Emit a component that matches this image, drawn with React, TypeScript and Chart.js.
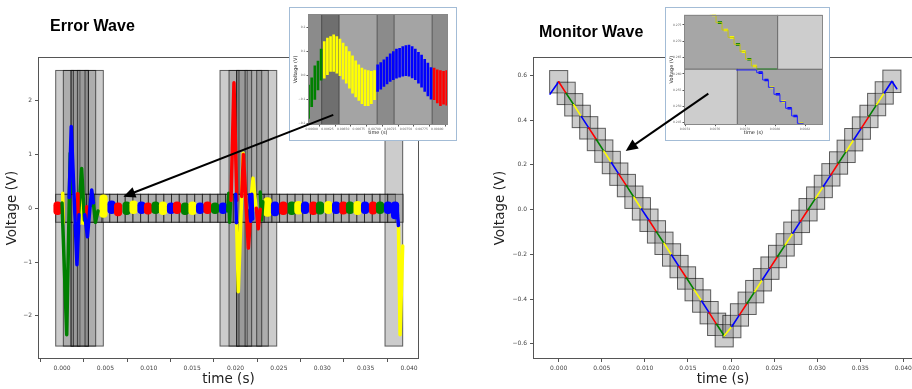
import React, { useEffect, useRef } from 'react';
import { Chart, registerables } from 'chart.js';

Chart.register(...registerables);

const COLOR: Record<string, string> = { r: '#ff0000', g: '#008000', b: '#0000ff', y: '#ffff00' };
const BOX_FILL = 'rgba(128,128,128,0.4)';
const BOX_EDGE = 'rgba(0,0,0,0.6)';

// ================= Error Wave (left) =================
const errXMin = -0.00277;
const errXMax = 0.04115;
const errYMin = -2.8;
const errYMax = 2.81;
const errXStep = 0.005;
const errYStep = 1;

// oscillation clusters (centre time, low, high, colour)
const errBlobT = [-0.00052, 0.00478, 0.00571, 0.00646, 0.00744, 0.00824, 0.00916, 0.00991, 0.01078, 0.01164, 0.01256, 0.01326, 0.01418, 0.01504, 0.01591, 0.01677, 0.01764, 0.01856, 0.02369, 0.02455, 0.02551, 0.02648, 0.02724, 0.02801, 0.02897, 0.02974, 0.0307, 0.03159, 0.03243, 0.0332, 0.03407, 0.03493, 0.03585, 0.03666, 0.03758, 0.03839];
const errBlobLo = [-0.12, -0.17, -0.1, -0.14, -0.12, -0.1, -0.1, -0.11, -0.1, -0.12, -0.1, -0.1, -0.12, -0.12, -0.1, -0.1, -0.1, -0.1, -0.15, -0.14, -0.12, -0.12, -0.11, -0.1, -0.12, -0.11, -0.1, -0.1, -0.11, -0.1, -0.12, -0.1, -0.11, -0.1, -0.1, -0.2];
const errBlobHi = [0.12, 0.25, 0.14, 0.1, 0.12, 0.14, 0.12, 0.1, 0.12, 0.12, 0.1, 0.12, 0.1, 0.12, 0.1, 0.12, 0.1, 0.1, 0.2, 0.12, 0.12, 0.12, 0.13, 0.12, 0.12, 0.12, 0.13, 0.12, 0.12, 0.12, 0.13, 0.12, 0.12, 0.12, 0.12, 0.12];
const errBlobC = ['r', 'y', 'b', 'r', 'g', 'y', 'b', 'r', 'g', 'y', 'b', 'r', 'g', 'y', 'b', 'r', 'g', 'b', 'y', 'b', 'r', 'g', 'y', 'b', 'r', 'g', 'y', 'b', 'r', 'g', 'y', 'b', 'r', 'g', 'b', 'b'];

// transient traces (null = break)
const errGreenT = [0.0, 0.00054, 0.00094, 0.00108, null, 0.00192, 0.00226, 0.00258, null, 0.00328, 0.00352, 0.00385, 0.00415, null, 0.0191, 0.01922, 0.01932, 0.01942, null, 0.02285, 0.023, 0.02315];
const errGreenV = [0.1, -2.35, 1.02, 0.3, null, -0.1, 0.74, -0.22, null, 0.05, 0.25, -0.26, -0.05, null, -0.05, 0.28, -0.26, 0.1, null, 0.3, -0.22, 0.12];
const errBlueT = [0.00082, 0.00106, 0.00172, 0.00196, null, 0.00262, 0.00293, 0.0032, 0.00342, 0.00362, null, 0.02002, 0.0201, null, 0.02165, 0.02175, 0.02188, 0.02198, null, 0.0386, 0.03878];
const errBlueV = [0.2, 1.52, -1.05, -0.12, null, -0.12, -0.53, -0.02, 0.34, 0.1, null, 0.26, -0.27, null, 0.25, -0.24, 0.26, -0.2, null, 0.02, -0.32];
const errRedT = [0.00178, 0.00184, null, 0.00285, 0.00292, null, 0.01948, 0.01982, 0.02015, null, 0.02071, 0.02091, 0.02148, 0.02178, null, 0.0224, 0.02262, 0.02285];
const errRedV = [0.27, -0.22, null, 0.03, -0.28, null, 0.15, 2.33, 0.15, null, 0.22, 1.0, -0.74, -0.05, null, 0.0, -0.38, -0.02];
const errYellowT = [0.00008, 0.00014, null, 0.00145, 0.00152, null, 0.00203, 0.00209, null, 0.00238, 0.00244, null, 0.02005, 0.02032, 0.02088, 0.021, null, 0.02167, 0.02202, 0.0224, null, 0.03878, 0.03897, 0.03927];
const errYellowV = [0.28, -0.28, null, 0.28, -0.28, null, 0.28, -0.28, null, 0.28, -0.28, null, 0.25, -1.55, 1.02, 0.3, null, 0.0, 0.56, -0.05, null, -0.3, -2.35, -0.7];

// gray windows
const errBoxStart = [-0.00073, 0.00015, 0.00104, 0.00104, 0.00177, 0.00265, 0.01821, 0.01925, 0.02013, 0.02013, 0.0211, 0.02244, 0.03723];
const errBoxEnd = [0.00476, 0.00388, 0.00207, 0.00131, 0.00304, 0.00304, 0.02475, 0.02378, 0.02136, 0.0204, 0.02186, 0.02302, 0.03927];
const errBoxHalf = 2.56;
const errBandEdges = [-0.00073, 0.00016, 0.00105, 0.00194, 0.00283, 0.00372, 0.00461, 0.0055, 0.00639, 0.00728, 0.00817, 0.00906, 0.00995, 0.01084, 0.01173, 0.01262, 0.01351, 0.0144, 0.01529, 0.01618, 0.01707, 0.01796, 0.01885, 0.01974, 0.02063, 0.02152, 0.02241, 0.0233, 0.02419, 0.02508, 0.02597, 0.02686, 0.02775, 0.02864, 0.02953, 0.03042, 0.03131, 0.0322, 0.03309, 0.03398, 0.03487, 0.03576, 0.03665, 0.03754, 0.03843, 0.03932];
const errBandHalf = 0.26;
const errArrowFrom = [0.03127, 1.734];
const errArrowTo = [0.00707, 0.216];

// inset of error wave
const eiXMin = 0.005941;
const eiXMax = 0.008166;
const eiYMin = -0.207;
const eiYMax = 0.257;
const eiXStep = 0.00025;
const eiYStep = 0.1;
const eiStripStart = [0.005941, 0.006159, 0.006439, 0.007044, 0.007315, 0.00792];
const eiStripEnd = [0.006159, 0.006439, 0.007044, 0.007315, 0.00792, 0.008166];
const eiStripLayers = [2, 3, 1, 2, 1, 2];
const eiGreenT = [0.00595, 0.006, 0.00605, 0.0061, 0.00615];
const eiGreenLo = [-0.18, -0.13, -0.1, -0.06, -0.02];
const eiGreenHi = [-0.04, -0.01, 0.04, 0.06, 0.11];
const eiYellowT = [0.0062, 0.00625, 0.0063, 0.00635, 0.0064, 0.00645, 0.0065, 0.00655, 0.0066, 0.00665, 0.0067, 0.00675, 0.0068, 0.00685, 0.0069, 0.00695, 0.007];
const eiYellowHi = [0.142, 0.156, 0.163, 0.17, 0.163, 0.152, 0.135, 0.121, 0.1, 0.082, 0.061, 0.045, 0.031, 0.024, 0.02, 0.017, 0.021];
const eiYellowLo = [-0.011, 0.003, 0.017, 0.017, 0.01, -0.001, -0.015, -0.032, -0.053, -0.074, -0.09, -0.104, -0.118, -0.126, -0.126, -0.118, -0.101];
const eiBlueT = [0.00705, 0.0071, 0.00715, 0.0072, 0.00725, 0.0073, 0.00735, 0.0074, 0.00745, 0.0075, 0.00755, 0.0076, 0.00765, 0.0077, 0.00775, 0.0078, 0.00785, 0.0079];
const eiBlueHi = [0.045, 0.054, 0.065, 0.077, 0.09, 0.1, 0.11, 0.114, 0.121, 0.125, 0.127, 0.121, 0.11, 0.097, 0.085, 0.068, 0.052, 0.033];
const eiBlueLo = [-0.067, -0.057, -0.046, -0.035, -0.025, -0.018, -0.011, -0.007, -0.003, -0.001, -0.003, -0.01, -0.018, -0.032, -0.049, -0.067, -0.085, -0.099];
const eiRedT = [0.00795, 0.008, 0.00805, 0.0081, 0.00815];
const eiRedHi = [0.031, 0.024, 0.02, 0.017, 0.02];
const eiRedLo = [-0.101, -0.115, -0.126, -0.12, -0.124];

// ================= Monitor Wave (right) =================
const monXMin = -0.00298;
const monXMax = 0.04112;
const monYMin = -0.668;
const monYMax = 0.6816;
const monXStep = 0.005;
const monYStep = 0.2;
const monT = [-0.001, 0.0, 0.00087, 0.00175, 0.00262, 0.00349, 0.00437, 0.00524, 0.00611, 0.00698, 0.00786, 0.00873, 0.0096, 0.01048, 0.01135, 0.01222, 0.0131, 0.01397, 0.01484, 0.01571, 0.01659, 0.01746, 0.01833, 0.01921, 0.0201, 0.02098, 0.02187, 0.02275, 0.02364, 0.02452, 0.0254, 0.02629, 0.02717, 0.02806, 0.02894, 0.02982, 0.03071, 0.03159, 0.03248, 0.03336, 0.03424, 0.03513, 0.03601, 0.0369, 0.03778, 0.03867, 0.03924];
const monV = [0.516, 0.571, 0.519, 0.468, 0.416, 0.365, 0.313, 0.261, 0.21, 0.158, 0.107, 0.055, 0.003, -0.048, -0.1, -0.151, -0.203, -0.255, -0.306, -0.358, -0.409, -0.461, -0.513, -0.564, -0.523, -0.471, -0.419, -0.367, -0.314, -0.262, -0.21, -0.158, -0.106, -0.053, -0.001, 0.051, 0.103, 0.155, 0.208, 0.26, 0.312, 0.364, 0.416, 0.469, 0.521, 0.573, 0.54];
const monC = ['b', 'r', 'g', 'y', 'b', 'r', 'g', 'y', 'b', 'r', 'g', 'y', 'b', 'r', 'g', 'y', 'b', 'r', 'g', 'y', 'b', 'r', 'g', 'y', 'b', 'r', 'g', 'y', 'b', 'r', 'g', 'y', 'b', 'r', 'g', 'y', 'b', 'r', 'g', 'y', 'b', 'r', 'g', 'y', 'b', 'b'];
const monBoxHalfT = 0.00105;
const monBoxHalfV = 0.05;
const monArrowFrom = [0.01737, 0.518];
const monArrowTo = [0.00778, 0.262];

// inset of monitor wave
const miXMin = 0.0073933;
const miXMax = 0.008318;
const miYMin = 0.24438;
const miYMax = 0.27816;
const miXStep = 0.0002;
const miYStep = 0.005;
const miRectX0 = [0.0073933, 0.008018, 0.0073933, 0.007749];
const miRectX1 = [0.008018, 0.008318, 0.007749, 0.008318];
const miRectY0 = [0.26139, 0.26139, 0.24438, 0.24438];
const miRectY1 = [0.27816, 0.27816, 0.26139, 0.26139];
const miRectLayers = [2, 1, 1, 2];
const miUpT = [0.007567, 0.007607, 0.007647, 0.007687, 0.007727, 0.007767, 0.007804, 0.007842, 0.007878, 0.008011];
const miUpV = [0.27807, 0.27572, 0.27346, 0.27121, 0.26906, 0.26681, 0.26446, 0.26241, 0.26149, 0.26149];
const miUpSegC = ['o', 'o', 'o', 'o', 'o', 'o', 'o', 'o', 'g'];
const miUpTread = ['y', 'g', 'y', 'y', 'g', 'y', 'g', 'y', ''];
const miDnT = [0.007744, 0.007878, 0.007918, 0.007956, 0.007993, 0.008033, 0.008071, 0.008111, 0.008149, 0.008189];
const miDnV = [0.26118, 0.26036, 0.25811, 0.25586, 0.25371, 0.25146, 0.24941, 0.24706, 0.24481, 0.24481];
const miDnTread = ['', 'b', 'b', 'y', 'b', 'y', 'b', 'b', 'y'];

// ================= helpers =================
const LAYER_SHADE: Record<number, string> = { 1: '#a4a4a4', 2: '#8b8b8b', 3: '#6f6f6f' };
const LAYER_SHADE_MI: Record<number, string> = { 1: '#cdcdcd', 2: '#a6a6a6' };
const STAIR_COLOR: Record<string, string> = { o: '#c2c21a', g: '#2e8b2e', b: '#2222ff' };

type Rect = { x0: number; x1: number; y0: number; y1: number; fill: string; stroke?: string };

const minus = (v: number, d: number) => (v < -1e-12 ? '\u2212' : '') + Math.abs(v).toFixed(d);

function pts(T: (number | null)[], V: (number | null)[]) {
  let last = 0;
  return T.map((t, i) => {
    if (t !== null) last = t;
    return { x: last, y: V[i] };
  });
}

function rectPlugin(rects: Rect[], frame: string) {
  return {
    id: 'rects',
    beforeDatasetsDraw(chart: any) {
      const { ctx, chartArea: a, scales } = chart;
      const x = scales.x;
      const y = scales.y;
      ctx.save();
      ctx.beginPath();
      ctx.rect(a.left, a.top, a.right - a.left, a.bottom - a.top);
      ctx.clip();
      for (const r of rects) {
        const px0 = x.getPixelForValue(r.x0);
        const px1 = x.getPixelForValue(r.x1);
        const py0 = y.getPixelForValue(r.y1);
        const py1 = y.getPixelForValue(r.y0);
        ctx.fillStyle = r.fill;
        ctx.fillRect(px0, py0, px1 - px0, py1 - py0);
        if (r.stroke) {
          ctx.strokeStyle = r.stroke;
          ctx.lineWidth = 1;
          ctx.strokeRect(px0, py0, px1 - px0, py1 - py0);
        }
      }
      ctx.restore();
    },
    afterDatasetsDraw(chart: any) {
      const { ctx, chartArea: a } = chart;
      ctx.save();
      ctx.strokeStyle = frame;
      ctx.lineWidth = 1;
      const l = Math.round(a.left) + 0.5;
      const t = Math.round(a.top) + 0.5;
      ctx.strokeRect(l, t, Math.round(a.right) - Math.round(a.left) - 1, Math.round(a.bottom) - Math.round(a.top) - 1);
      ctx.restore();
    },
  };
}

function arrowPlugin(overlay: HTMLCanvasElement, from: number[], to: number[]) {
  return {
    id: 'arrowOverlay',
    afterDraw(chart: any) {
      const ctx = overlay.getContext('2d');
      if (!ctx) return;
      ctx.clearRect(0, 0, overlay.width, overlay.height);
      const { x, y } = chart.scales;
      const x0 = x.getPixelForValue(from[0]);
      const y0 = y.getPixelForValue(from[1]);
      const x1 = x.getPixelForValue(to[0]);
      const y1 = y.getPixelForValue(to[1]);
      const ang = Math.atan2(y1 - y0, x1 - x0);
      const c = Math.cos(ang);
      const s = Math.sin(ang);
      const headL = 12;
      const headW = 5.5;
      const bx = x1 - headL * c;
      const by = y1 - headL * s;
      ctx.strokeStyle = '#000';
      ctx.fillStyle = '#000';
      ctx.lineWidth = 2;
      ctx.beginPath();
      ctx.moveTo(x0, y0);
      ctx.lineTo(bx + 2 * c, by + 2 * s);
      ctx.stroke();
      ctx.beginPath();
      ctx.moveTo(x1, y1);
      ctx.lineTo(bx + headW * s, by - headW * c);
      ctx.lineTo(bx - headW * s, by + headW * c);
      ctx.closePath();
      ctx.fill();
    },
  };
}

function linScale(o: {
  min: number; max: number; step: number; fmt: (v: number) => string; tickSize: number; tickLen: number;
  tickPad: number; title: string; titleSize: number; titlePad: any; fit: number; horizontal: boolean; tickColor?: string;
}) {
  return {
    type: 'linear',
    min: o.min,
    max: o.max,
    offset: false,
    ticks: {
      stepSize: o.step,
      includeBounds: false,
      autoSkip: false,
      maxRotation: 0,
      minRotation: 0,
      padding: o.tickPad,
      color: o.tickColor || '#444',
      font: { size: o.tickSize },
      callback: (v: any) => o.fmt(Number(v)),
    },
    grid: { display: true, drawOnChartArea: false, drawTicks: true, tickLength: o.tickLen, color: '#555', lineWidth: 1 },
    border: { display: false },
    title: { display: true, text: o.title, color: '#222', font: { size: o.titleSize }, padding: o.titlePad },
    afterFit: (s: any) => {
      if (o.horizontal) s.height = o.fit;
      else s.width = o.fit;
    },
  };
}

const baseLine = { type: 'line', pointRadius: 0, borderCapStyle: 'round', borderJoinStyle: 'round', fill: false };

function errMainConfig(overlay: HTMLCanvasElement): any {
  const rects: Rect[] = [];
  errBoxStart.forEach((s, i) => rects.push({ x0: s, x1: errBoxEnd[i], y0: -errBoxHalf, y1: errBoxHalf, fill: BOX_FILL, stroke: BOX_EDGE }));
  for (let i = 0; i + 2 < errBandEdges.length; i++) {
    rects.push({ x0: errBandEdges[i], x1: errBandEdges[i + 2], y0: -errBandHalf, y1: errBandHalf, fill: BOX_FILL, stroke: BOX_EDGE });
  }
  const lineDs = (T: any[], V: any[], c: string, order: number) => ({
    ...baseLine, data: pts(T, V), borderColor: COLOR[c], borderWidth: 3.5, order,
  });
  return {
    type: 'line',
    data: {
      datasets: [
        {
          type: 'bar',
          data: errBlobT.map((t, i) => ({ x: t, y: [errBlobLo[i], errBlobHi[i]] })),
          backgroundColor: errBlobC.map((c) => COLOR[c]),
          barThickness: 7.5,
          borderRadius: 4,
          borderSkipped: false,
          borderWidth: 0,
          grouped: false,
          order: 10,
        },
        lineDs(errYellowT, errYellowV, 'y', 4),
        lineDs(errGreenT, errGreenV, 'g', 3),
        lineDs(errRedT, errRedV, 'r', 2),
        lineDs(errBlueT, errBlueV, 'b', 1),
      ],
    },
    options: {
      animation: false,
      responsive: false,
      layout: { padding: { left: 0, top: 57, right: 37, bottom: 0 } },
      plugins: { legend: { display: false }, tooltip: { enabled: false } },
      scales: {
        x: linScale({ min: errXMin, max: errXMax, step: errXStep, fmt: (v) => v.toFixed(3), tickSize: 6, tickLen: 3, tickPad: 3, title: 'time (s)', titleSize: 13.5, titlePad: { top: 0, bottom: 1 }, fit: 30, horizontal: true }),
        y: linScale({ min: errYMin, max: errYMax, step: errYStep, fmt: (v) => minus(v, 0), tickSize: 6, tickLen: 3, tickPad: 3, title: 'Voltage (V)', titleSize: 13.5, titlePad: { top: 4.4, bottom: 0 }, fit: 38, horizontal: false }),
      },
    },
    plugins: [rectPlugin(rects, '#555'), arrowPlugin(overlay, errArrowFrom, errArrowTo)],
  };
}

function errInsetConfig(): any {
  const rects: Rect[] = eiStripStart.map((s, i) => ({ x0: s, x1: eiStripEnd[i], y0: eiYMin, y1: eiYMax, fill: LAYER_SHADE[eiStripLayers[i]], stroke: 'rgba(0,0,0,0.35)' }));
  const strokes = (T: number[], Lo: number[], Hi: number[], c: string) => ({
    type: 'bar',
    data: T.map((t, i) => ({ x: t, y: [Lo[i], Hi[i]] })),
    backgroundColor: COLOR[c],
    barThickness: 2,
    borderWidth: 0,
    grouped: false,
  });
  return {
    type: 'line',
    data: {
      datasets: [
        strokes(eiGreenT, eiGreenLo, eiGreenHi, 'g'),
        strokes(eiYellowT, eiYellowLo, eiYellowHi, 'y'),
        strokes(eiBlueT, eiBlueLo, eiBlueHi, 'b'),
        strokes(eiRedT, eiRedLo, eiRedHi, 'r'),
      ],
    },
    options: {
      animation: false,
      responsive: false,
      layout: { padding: { left: 0, top: 6, right: 8.3, bottom: 0 } },
      plugins: { legend: { display: false }, tooltip: { enabled: false } },
      scales: {
        x: linScale({ min: eiXMin, max: eiXMax, step: eiXStep, fmt: (v) => v.toFixed(5), tickSize: 3, tickLen: 1.5, tickPad: 1, title: 'time (s)', titleSize: 5, titlePad: { top: 0, bottom: 4.7 }, fit: 15, horizontal: true, tickColor: '#666' }),
        y: linScale({ min: eiYMin, max: eiYMax, step: eiYStep, fmt: (v) => minus(v, 1), tickSize: 3, tickLen: 1.5, tickPad: 1, title: 'Voltage (V)', titleSize: 5, titlePad: { top: 2.7, bottom: 0 }, fit: 18, horizontal: false, tickColor: '#666' }),
      },
    },
    plugins: [rectPlugin(rects, '#888')],
  };
}

function monMainConfig(overlay: HTMLCanvasElement): any {
  const rects: Rect[] = [];
  for (let i = 1; i < monT.length - 1; i++) {
    rects.push({ x0: monT[i] - monBoxHalfT, x1: monT[i] + monBoxHalfT, y0: monV[i] - monBoxHalfV, y1: monV[i] + monBoxHalfV, fill: BOX_FILL, stroke: BOX_EDGE });
  }
  return {
    type: 'line',
    data: {
      datasets: [
        {
          ...baseLine,
          data: monT.map((t, i) => ({ x: t, y: monV[i] })),
          borderWidth: 1.6,
          borderColor: COLOR.b,
          segment: { borderColor: (ctx: any) => COLOR[monC[ctx.p0DataIndex]] },
        },
      ],
    },
    options: {
      animation: false,
      responsive: false,
      layout: { padding: { left: 32, top: 57, right: 7, bottom: 0 } },
      plugins: { legend: { display: false }, tooltip: { enabled: false } },
      scales: {
        x: linScale({ min: monXMin, max: monXMax, step: monXStep, fmt: (v) => v.toFixed(3), tickSize: 6, tickLen: 3, tickPad: 3, title: 'time (s)', titleSize: 13.5, titlePad: { top: 0, bottom: 1 }, fit: 30, horizontal: true }),
        y: linScale({ min: monYMin, max: monYMax, step: monYStep, fmt: (v) => minus(v, 1), tickSize: 6, tickLen: 3, tickPad: 3, title: 'Voltage (V)', titleSize: 13.5, titlePad: { top: 4.7, bottom: 0 }, fit: 45, horizontal: false }),
      },
    },
    plugins: [rectPlugin(rects, '#555'), arrowPlugin(overlay, monArrowFrom, monArrowTo)],
  };
}

function treads(T: number[], V: number[], colors: string[], which: string) {
  const out: any[] = [];
  colors.forEach((c, i) => {
    if (c !== which || i + 1 >= T.length) return;
    const a = T[i] + 0.3 * (T[i + 1] - T[i]);
    out.push({ x: a, y: V[i] }, { x: T[i + 1], y: V[i] }, { x: T[i + 1], y: null });
  });
  return out;
}

function monInsetConfig(): any {
  const rects: Rect[] = miRectX0.map((x0, i) => ({ x0, x1: miRectX1[i], y0: miRectY0[i], y1: miRectY1[i], fill: LAYER_SHADE_MI[miRectLayers[i]], stroke: 'rgba(0,0,0,0.35)' }));
  const tread = (data: any[], c: string) => ({ ...baseLine, borderCapStyle: 'butt', data, borderColor: COLOR[c], borderWidth: 2.6 });
  return {
    type: 'line',
    data: {
      datasets: [
        {
          ...baseLine,
          data: miUpT.map((t, i) => ({ x: t, y: miUpV[i] })),
          stepped: true,
          borderWidth: 1,
          borderColor: STAIR_COLOR.o,
          segment: { borderColor: (ctx: any) => STAIR_COLOR[miUpSegC[ctx.p0DataIndex]] },
        },
        {
          ...baseLine,
          data: miDnT.map((t, i) => ({ x: t, y: miDnV[i] })),
          stepped: true,
          borderWidth: 1,
          borderColor: STAIR_COLOR.b,
        },
        tread(treads(miUpT, miUpV, miUpTread, 'y'), 'y'),
        tread(treads(miUpT, miUpV, miUpTread, 'g'), 'g'),
        tread(treads(miDnT, miDnV, miDnTread, 'b'), 'b'),
        tread(treads(miDnT, miDnV, miDnTread, 'y'), 'y'),
      ],
    },
    options: {
      animation: false,
      responsive: false,
      layout: { padding: { left: 0, top: 6.7, right: 6.3, bottom: 0 } },
      plugins: { legend: { display: false }, tooltip: { enabled: false } },
      scales: {
        x: linScale({ min: miXMin, max: miXMax, step: miXStep, fmt: (v) => v.toFixed(4), tickSize: 3, tickLen: 1.5, tickPad: 1, title: 'time (s)', titleSize: 5, titlePad: { top: 0, bottom: 4.7 }, fit: 15.3, horizontal: true, tickColor: '#666' }),
        y: linScale({ min: miYMin, max: miYMax, step: miYStep, fmt: (v) => v.toFixed(3), tickSize: 3, tickLen: 1.5, tickPad: 1, title: 'Voltage (V)', titleSize: 5, titlePad: { top: 3, bottom: 0 }, fit: 18, horizontal: false, tickColor: '#666' }),
      },
    },
    plugins: [rectPlugin(rects, '#888')],
  };
}

const abs = (left: number, top: number, width: number, height: number, z: number): React.CSSProperties => ({
  position: 'absolute', left, top, width, height, zIndex: z,
});

export default function App() {
  const lMain = useRef<HTMLCanvasElement>(null);
  const lOver = useRef<HTMLCanvasElement>(null);
  const lInset = useRef<HTMLCanvasElement>(null);
  const rMain = useRef<HTMLCanvasElement>(null);
  const rOver = useRef<HTMLCanvasElement>(null);
  const rInset = useRef<HTMLCanvasElement>(null);

  useEffect(() => {
    Chart.defaults.font.family = "'DejaVu Sans', sans-serif";
    const charts: Chart[] = [];
    charts.push(new Chart(lMain.current!, errMainConfig(lOver.current!)));
    charts.push(new Chart(lInset.current!, errInsetConfig()));
    charts.push(new Chart(rMain.current!, monMainConfig(rOver.current!)));
    charts.push(new Chart(rInset.current!, monInsetConfig()));
    return () => charts.forEach((c) => c.destroy());
  }, []);

  const titleFont = 'bold 16px "Liberation Sans", Arial, sans-serif';
  const insetBox = (left: number, width: number): React.CSSProperties => ({
    ...abs(left, 7, width, 134, 2), boxSizing: 'border-box', border: '1px solid #a3bcd6', background: '#fff',
  });

  return (
    <div style={{ position: 'absolute', left: 0, top: 0, width: 912, height: 389, overflow: 'hidden', background: '#fff' }}>
      <canvas ref={lMain} width={456} height={389} style={abs(0, 0, 456, 389, 1)} />
      <canvas ref={rMain} width={464} height={389} style={abs(456, 0, 464, 389, 1)} />
      <div style={insetBox(289, 168)}>
        <canvas ref={lInset} width={166} height={132} style={{ display: 'block', width: 166, height: 132 }} />
      </div>
      <div style={insetBox(665, 165)}>
        <canvas ref={rInset} width={163} height={132} style={{ display: 'block', width: 163, height: 132 }} />
      </div>
      <canvas ref={lOver} width={456} height={389} style={{ ...abs(0, 0, 456, 389, 3), pointerEvents: 'none' }} />
      <canvas ref={rOver} width={464} height={389} style={{ ...abs(456, 0, 464, 389, 3), pointerEvents: 'none' }} />
      <div style={{ position: 'absolute', left: 50, top: 18, font: titleFont, lineHeight: '16px', whiteSpace: 'nowrap', color: '#000', zIndex: 4 }}>Error Wave</div>
      <div style={{ position: 'absolute', left: 539, top: 23.5, font: titleFont, lineHeight: '16px', whiteSpace: 'nowrap', color: '#000', zIndex: 4 }}>Monitor Wave</div>
    </div>
  );
}
